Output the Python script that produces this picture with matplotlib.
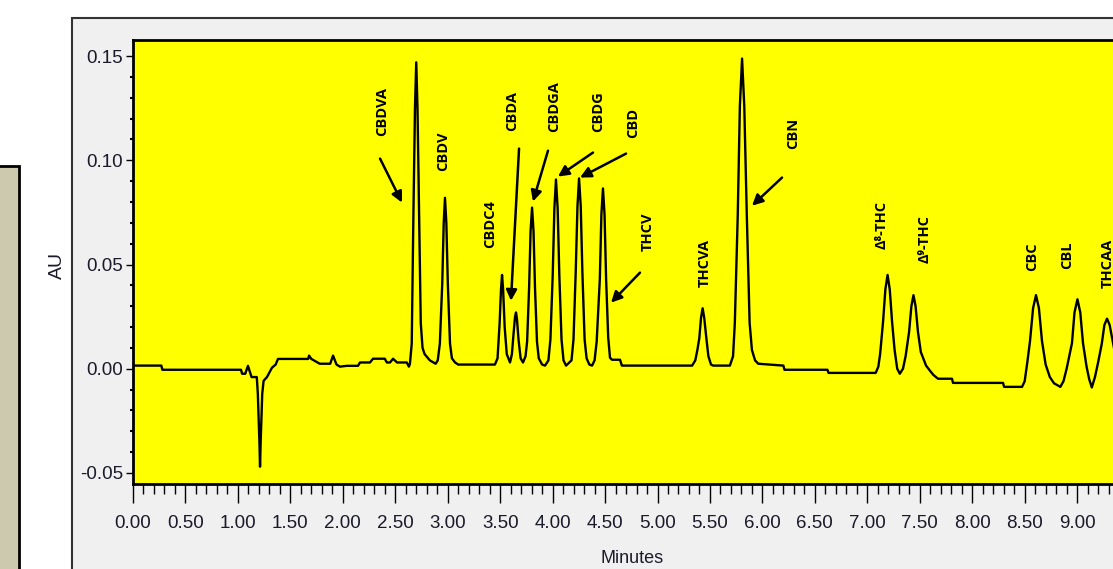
import matplotlib
matplotlib.use("Agg")
import matplotlib.pyplot as plt
from matplotlib.patches import Rectangle
from matplotlib.ticker import MultipleLocator, FormatStrFormatter

# chromatogram trace: (minutes, AU)
trace = [
    # baseline and solvent dip
    (0.00, 0.0015), (0.27, 0.0015), (0.28, -0.0005), (1.03, -0.0005), (1.04, -0.0024),
    (1.07, -0.0024), (1.096, 0.0014), (1.13, -0.004), (1.18, -0.004), (1.19, -0.012),
    (1.205, -0.035), (1.211, -0.047), (1.217, -0.035), (1.232, -0.012), (1.245, -0.0058),
    (1.277, -0.004), (1.325, 0.0005), (1.36, 0.002), (1.382, 0.0047), (1.67, 0.0047),
    (1.678, 0.0063), (1.70, 0.0047), (1.78, 0.0024), (1.88, 0.0024), (1.907, 0.0063),
    (1.94, 0.002), (1.973, 0.001), (2.04, 0.0014), (2.145, 0.0014), (2.164, 0.003),
    (2.259, 0.003), (2.288, 0.0048), (2.40, 0.0048), (2.42, 0.003), (2.45, 0.003),
    (2.479, 0.0048), (2.517, 0.003), (2.61, 0.003), (2.63, 0.001),
    # CBDVA
    (2.64, 0.0024), (2.657, 0.012), (2.673, 0.074), (2.688, 0.125), (2.70, 0.147),
    (2.712, 0.125), (2.727, 0.074), (2.743, 0.022), (2.76, 0.010), (2.78, 0.007),
    (2.83, 0.004), (2.885, 0.0024),
    # CBDV
    (2.905, 0.004), (2.925, 0.012), (2.948, 0.041), (2.962, 0.07), (2.974, 0.082),
    (2.987, 0.07), (3.001, 0.041), (3.022, 0.012), (3.04, 0.005), (3.07, 0.003),
    (3.10, 0.002), (3.45, 0.002),
    # CBDC4
    (3.475, 0.005), (3.495, 0.022), (3.508, 0.038), (3.518, 0.045), (3.528, 0.038),
    (3.543, 0.02), (3.563, 0.007), (3.594, 0.003),
    # CBDA
    (3.612, 0.007), (3.628, 0.017), (3.642, 0.025), (3.651, 0.027), (3.66, 0.024),
    (3.675, 0.014), (3.695, 0.005), (3.718, 0.003),
    # CBDGA
    (3.742, 0.006), (3.757, 0.013), (3.776, 0.039), (3.79, 0.066), (3.804, 0.0773),
    (3.818, 0.066), (3.832, 0.039), (3.851, 0.013), (3.868, 0.005), (3.90, 0.002),
    (3.928, 0.0015),
    # CBDG
    (3.96, 0.004), (3.979, 0.014), (4.001, 0.045), (4.017, 0.077), (4.032, 0.0908),
    (4.048, 0.077), (4.064, 0.045), (4.085, 0.014), (4.104, 0.004), (4.128, 0.0015),
    # CBD
    (4.18, 0.004), (4.199, 0.014), (4.22, 0.046), (4.237, 0.078), (4.252, 0.0913),
    (4.268, 0.078), (4.284, 0.046), (4.305, 0.014), (4.324, 0.005), (4.35, 0.002),
    (4.376, 0.0015),
    # peak at 4.48 with THCV shoulder
    (4.40, 0.004), (4.42, 0.013), (4.45, 0.043), (4.465, 0.074), (4.48, 0.0865),
    (4.495, 0.074), (4.51, 0.043), (4.53, 0.015), (4.547, 0.0053), (4.566, 0.0043),
    (4.643, 0.0043), (4.66, 0.0015),
    # THCVA
    (5.33, 0.0015), (5.36, 0.004), (5.38, 0.009), (5.398, 0.0145), (5.415, 0.0245),
    (5.43, 0.029), (5.445, 0.0245), (5.466, 0.0145), (5.485, 0.006), (5.51, 0.002),
    (5.53, 0.0015),
    # CBN
    (5.69, 0.0015), (5.72, 0.006), (5.737, 0.022), (5.765, 0.074), (5.785, 0.126),
    (5.806, 0.1488), (5.827, 0.126), (5.851, 0.074), (5.878, 0.022), (5.90, 0.009),
    (5.93, 0.004), (5.96, 0.0024), (6.20, 0.0015), (6.21, -0.0005), (6.62, -0.0005),
    (6.63, -0.002), (7.08, -0.002),
    # d8-THC
    (7.105, 0.001), (7.122, 0.007), (7.15, 0.0225), (7.172, 0.038), (7.193, 0.045),
    (7.214, 0.038), (7.236, 0.0225), (7.26, 0.009), (7.285, 0.0), (7.31, -0.0024),
    # d9-THC
    (7.34, 0.0), (7.365, 0.006), (7.398, 0.0176), (7.42, 0.03), (7.44, 0.0353),
    (7.46, 0.03), (7.483, 0.0176), (7.51, 0.008), (7.531, 0.0053), (7.56, 0.0015),
    (7.598, -0.001), (7.63, -0.003), (7.674, -0.0048), (7.807, -0.0048), (7.817, -0.0068),
    (8.294, -0.0068), (8.304, -0.0087), (8.475, -0.0087),
    # CBC
    (8.50, -0.006), (8.525, 0.003), (8.551, 0.0133), (8.58, 0.029), (8.608, 0.0353),
    (8.636, 0.029), (8.665, 0.0133), (8.70, 0.002), (8.74, -0.004), (8.78, -0.007),
    (8.84, -0.0087),
    # CBL
    (8.87, -0.006), (8.90, 0.0), (8.925, 0.006), (8.951, 0.0123), (8.975, 0.027),
    (9.003, 0.0333), (9.03, 0.027), (9.056, 0.0123), (9.09, 0.001), (9.115, -0.005),
    (9.14, -0.009),
    # THCAA
    (9.17, -0.004), (9.20, 0.003), (9.235, 0.012), (9.26, 0.021), (9.285, 0.024),
    (9.31, 0.021), (9.34, 0.013), (9.37, 0.005),
]

# peak labels: name, x (min), bottom of text (AU)
peak_names = ["CBDVA", "CBDV", "CBDC4", "CBDA", "CBDGA", "CBDG", "CBD", "THCV",
              "THCVA", "CBN", "Δ⁸-THC", "Δ⁹-THC", "CBC", "CBL", "THCAA"]
label_x = [2.374, 2.955, 3.403, 3.613, 4.013, 4.433, 4.766, 4.909,
           5.453, 6.292, 7.140, 7.550, 8.570, 8.904, 9.295]
label_y = [0.1118, 0.095, 0.058, 0.1142, 0.1138, 0.1138, 0.1109, 0.0566,
           0.0394, 0.1056, 0.0576, 0.0509, 0.047, 0.048, 0.0389]

# arrows: (tail, head)
arrows = [
    ((2.355, 0.1008), (2.564, 0.0797)),
    ((3.680, 0.1056), (3.603, 0.0326)),
    ((3.956, 0.1046), (3.813, 0.0802)),
    ((4.385, 0.1037), (4.051, 0.0922)),
    ((4.700, 0.1032), (4.261, 0.0917)),
    ((4.833, 0.0461), (4.557, 0.0317)),
    ((6.187, 0.0917), (5.901, 0.0782)),
]

W, H = 1113, 569
fig = plt.figure(figsize=(W / 100, H / 100), dpi=100)
fig.patch.set_facecolor("white")

# gray window frame and beige side panel
fig.patches.append(Rectangle((72 / W, -0.1), 1.0, 1 - 18 / H + 0.1, transform=fig.transFigure,
                             facecolor="#f0f0f0", edgecolor="#333333", lw=1.5, zorder=-5))
fig.patches.append(Rectangle((-0.01, -0.1), 0.01 + 19 / W, 1 - 166 / H + 0.1, transform=fig.transFigure,
                             facecolor="#cdc9ae", edgecolor="black", lw=2, zorder=-5))

ax = fig.add_axes([133 / W, 1 - 484 / H, (W - 133) / W, (484 - 40) / H])
ax.set_zorder(2)
ax.set_facecolor("#ffff00")

ts = [p[0] for p in trace]
au = [p[1] for p in trace]
ax.plot(ts, au, color="black", lw=1.7)

ax.set_xlim(0, 9.342)
ax.set_ylim(-0.0553, 0.1577)

narrow = ["Liberation Sans", "DejaVu Sans"]
ink = "#1a1a2a"
ax.xaxis.set_major_locator(MultipleLocator(0.5))
ax.xaxis.set_minor_locator(MultipleLocator(0.1))
ax.yaxis.set_major_locator(MultipleLocator(0.05))
ax.yaxis.set_minor_locator(MultipleLocator(0.01))
ax.xaxis.set_major_formatter(FormatStrFormatter("%.2f"))
ax.yaxis.set_major_formatter(FormatStrFormatter("%.2f"))
ax.tick_params(axis="x", which="major", length=14, width=1, pad=8)
ax.tick_params(axis="x", which="minor", length=7, width=1)
ax.tick_params(axis="y", which="major", length=5, width=1, pad=2)
ax.tick_params(axis="y", which="minor", length=2, width=1.5)
for lab in ax.get_xticklabels() + ax.get_yticklabels():
    lab.set_fontfamily(narrow)
    lab.set_fontsize(13.5)
    lab.set_color(ink)

for side in ["top", "left", "bottom"]:
    ax.spines[side].set_linewidth(2)
ax.spines["right"].set_visible(False)

ax.set_ylabel("AU", fontfamily=narrow, fontsize=14, color=ink)
ax.yaxis.set_label_coords(-0.068, 0.493)
fig.text(632 / W, 1 - 550 / H, "Minutes", ha="center", va="top",
         fontfamily=narrow, fontsize=13, color=ink)

for name, x, y in zip(peak_names, label_x, label_y):
    ax.text(x, y, name, rotation=90, ha="center", va="bottom", fontsize=10.5,
            fontweight="bold", family=["Open Sans", "DejaVu Sans"], clip_on=False)

for tail, head in arrows:
    ax.annotate("", xy=head, xytext=tail,
                arrowprops=dict(arrowstyle="-|>", color="black", lw=1.8, mutation_scale=16,
                                shrinkA=0, shrinkB=0))

fig.savefig("out.png", dpi=100)
